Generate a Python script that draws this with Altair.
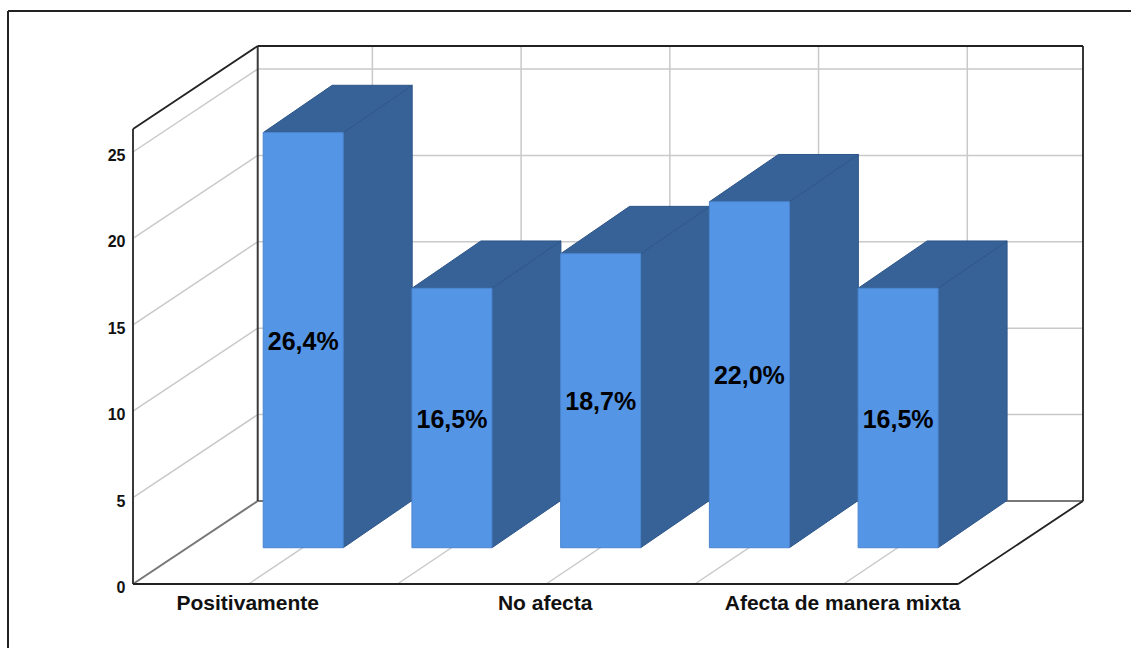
import altair as alt
import pandas as pd

# Share of each answer (%), out of the surveyed total
percents = [26.4, 16.5, 18.7, 22.0, 16.5]
survey_total = 91
axis_categories = ["Positivamente", "", "No afecta", "", "Afecta de manera mixta"]
category_ticks = [0, 2, 4]
count_ticks = [0, 5, 10, 15, 20, 25]

counts = [p * survey_total / 100 for p in percents]
labels = [f"{p:.1f}%".replace(".", ",") for p in percents]

# Oblique box: one unit of depth shifts by DX categories and DY counts
DX = 0.8386
DY = 4.803
WALL_TOP = 26.33
CAT_MIN, CAT_MAX = -0.778, 4.771
GRID_SHIFT = 0.007
BAR_HALF = 0.269
BAR_FRONT = 0.437
BAR_DEPTH_X = 0.553
BAR_DEPTH_Y = 0.57

xs = alt.Scale(domain=[CAT_MIN, CAT_MAX + DX], nice=False, zero=False)
ys = alt.Scale(domain=[0, 538 / 17.28], nice=False, zero=False)

# Axes carry only their labels; the box outline stands in for the domain lines
label_lookup = "[" + ",".join(f"'{c}'" for c in axis_categories) + "][datum.value]"
x_axis = alt.Axis(
    values=category_ticks,
    labelExpr=label_lookup,
    title=None,
    grid=False,
    domain=False,
    ticks=False,
    labelPadding=8,
    labelOffset=-1.5,
    labelFont="Liberation Sans",
    labelFontWeight="bold",
    labelFontSize=21,
    labelLimit=400,
    labelColor="#111111",
    labelOverlap=False,
    labelFlush=False,
)
y_axis = alt.Axis(
    values=count_ticks,
    title=None,
    grid=False,
    domain=False,
    ticks=False,
    labelPadding=8,
    labelOffset=3.5,
    labelFont="Liberation Sans",
    labelFontWeight="bold",
    labelFontSize=16,
    labelColor="#111111",
    labelOverlap=False,
    labelFlush=False,
)
X = alt.X("x:Q", scale=xs, axis=x_axis)
Y = alt.Y("y:Q", scale=ys, axis=y_axis)


def project(cat, value, depth):
    return cat + depth * DX, value + depth * DY


def segment(start, end):
    x, y = project(*start)
    x2, y2 = project(*end)
    return {"x": x, "y": y, "x2": x2, "y2": y2}


def rules(segments, color, width):
    return (
        alt.Chart(pd.DataFrame(segments))
        .mark_rule(color=color, strokeWidth=width)
        .encode(x=X, x2="x2:Q", y=Y, y2="y2:Q")
    )


# Light grid on the left wall, back wall and floor
grid_segments = []
for v in count_ticks[1:]:
    grid_segments.append(segment((CAT_MIN, v, 0), (CAT_MIN, v, 1)))
    grid_segments.append(segment((CAT_MIN, v, 1), (CAT_MAX, v, 1)))
for c in range(len(percents)):
    back = c - GRID_SHIFT
    grid_segments.append(segment((c, 0, 0), (back, 0, 1)))
    grid_segments.append(segment((back, 0, 1), (back, WALL_TOP, 1)))
grid = rules(grid_segments, "#c9c9c9", 1.5)

# Box outline
dark_edges = rules(
    [
        segment((CAT_MIN, 0, 0), (CAT_MIN, WALL_TOP, 0)),
        segment((CAT_MIN, 0, 1), (CAT_MIN, WALL_TOP, 1)),
    ],
    "#3a3a3a",
    2,
)
thin_edges = rules(
    [
        segment((CAT_MIN, WALL_TOP, 0), (CAT_MIN, WALL_TOP, 1)),
        segment((CAT_MIN, WALL_TOP, 1), (CAT_MAX, WALL_TOP, 1)),
        segment((CAT_MAX, 0, 1), (CAT_MAX, WALL_TOP, 1)),
        segment((CAT_MIN, 0, 0), (CAT_MAX, 0, 0)),
        segment((CAT_MAX, 0, 0), (CAT_MAX, 0, 1)),
    ],
    "#222222",
    1.8,
)
floor_edges = rules(
    [
        segment((CAT_MIN, 0, 0), (CAT_MIN, 0, 1)),
        segment((CAT_MIN, 0, 1), (CAT_MAX, 0, 1)),
    ],
    "#777777",
    2,
)

# Bar faces
front_rows, side_rows, top_rows, text_rows = [], [], [], []
for i, (count, label) in enumerate(zip(counts, labels)):
    lx, base = project(i - BAR_HALF, 0, BAR_FRONT)
    rx, _ = project(i + BAR_HALF, 0, BAR_FRONT)
    roof = base + count
    dx, dy = BAR_DEPTH_X * DX, BAR_DEPTH_Y * DY
    front_rows.append({"x": lx, "x2": rx, "y": base, "y2": roof})
    text_rows.append({"x": (lx + rx) / 2, "y": (base + roof) / 2, "label": label})
    side_rows += [
        {"bar": i, "x": rx, "y": roof, "y2": base},
        {"bar": i, "x": rx + dx, "y": roof + dy, "y2": base + dy},
    ]
    top_rows += [
        {"bar": i, "y": roof, "x": lx, "x2": rx},
        {"bar": i, "y": roof + dy, "x": lx + dx, "x2": rx + dx},
    ]

sides = (
    alt.Chart(pd.DataFrame(side_rows))
    .mark_area(color="#366298", stroke="#2f5688", strokeWidth=1, orient="vertical")
    .encode(x=X, y=Y, y2="y2:Q", detail="bar:N")
)
tops = (
    alt.Chart(pd.DataFrame(top_rows))
    .mark_area(color="#366298", stroke="#2f5688", strokeWidth=1, orient="horizontal")
    .encode(y=Y, x=X, x2="x2:Q", detail="bar:N")
)
fronts = (
    alt.Chart(pd.DataFrame(front_rows))
    .mark_rect(color="#5595e6", stroke="#4a85d0", strokeWidth=1)
    .encode(x=X, x2="x2:Q", y=Y, y2="y2:Q")
)
bar_text = (
    alt.Chart(pd.DataFrame(text_rows))
    .mark_text(font="Liberation Sans", fontWeight="bold", fontSize=25, color="#000000", dy=1.5)
    .encode(x=X, y=Y, text="label:N")
)

# Outer frame, running off the right and bottom of the page
frame_top = alt.Chart(pd.DataFrame({"k": [0]})).mark_rule(color="#222222", strokeWidth=2).encode(
    x=alt.value(-125), x2=alt.value(1000), y=alt.value(-35)
)
frame_left = alt.Chart(pd.DataFrame({"k": [0]})).mark_rule(color="#222222", strokeWidth=2).encode(
    x=alt.value(-125), y=alt.value(-35), y2=alt.value(610)
)

chart = (
    alt.layer(
        grid, frame_top, frame_left, floor_edges, dark_edges, thin_edges,
        sides, tops, fronts, bar_text,
    )
    .properties(
        width=950,
        height=538,
        padding={"left": 133, "top": 46, "right": 48, "bottom": 64},
        autosize=alt.AutoSizeParams(type="none"),
        background="#ffffff",
    )
    .configure_view(stroke=None)
)

chart.save("out.html", embed_options={"renderer": "svg", "actions": False})
